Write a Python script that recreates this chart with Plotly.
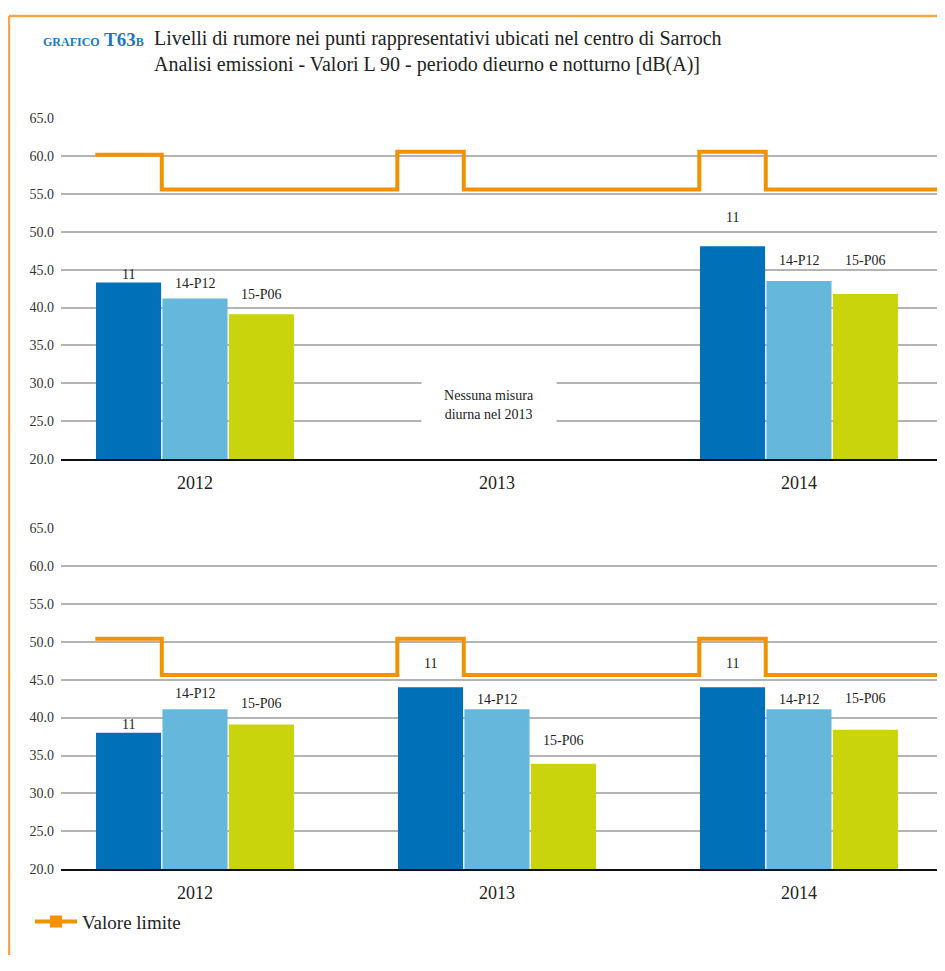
import plotly.graph_objects as go

# ---------------- data ----------------
years = ["2012", "2013", "2014"]
series_names = ["11", "14-P12", "15-P06"]

# daytime (top panel) L90 values, dB(A)
day_11 = [43.3, None, 48.1]
day_14P12 = [41.2, None, 43.5]
day_15P06 = [39.1, None, 41.8]

# night-time (bottom panel) L90 values, dB(A)
night_11 = [38.0, 44.0, 44.0]
night_14P12 = [41.1, 41.1, 41.1]
night_15P06 = [39.1, 33.9, 38.4]

# limit values (Valore limite): point 11 / other points
day_limit_11 = [60.2, 60.6, 60.6]
day_limit_other = [55.6, 55.6, 55.6]
night_limit_11 = [50.4, 50.4, 50.4]
night_limit_other = [45.6, 45.6, 45.6]

y_ticks = [20, 25, 30, 35, 40, 45, 50, 55, 60, 65]

# ---------------- style ----------------
PAGE_OFF = 8            # default body margin of the html page
W, H = 945 - PAGE_OFF, 971 - 2 * PAGE_OFF
colors = ["#0071b8", "#66b7dc", "#c9d40c"]
orange = "#f39200"
frame_col = "#f3a847"
serif = "Liberation Serif"


def px(x):
    return (x - PAGE_OFF) / W


def py(y):
    return 1 - (y - PAGE_OFF) / H


# label offsets (px above bar top, to label centre) [panel][year][series]
label_off = {
    "top": [[8, 15, 20], [0, 0, 0], [29, 21, 33]],
    "bot": [[8, 16, 21], [24, 10, 23], [24, 10, 31]],
}

xpos = list(range(len(years)))
bargap = 0.34
slot = (1 - bargap) / 3.0
x_range = [-0.4437, 2.4836]

fig = go.Figure()

panels = [
    ("top", "x", "y", [day_11, day_14P12, day_15P06], day_limit_11, day_limit_other),
    ("bot", "x2", "y2", [night_11, night_14P12, night_15P06], night_limit_11, night_limit_other),
]

for key, xa, ya, vals, lim_hi, lim_lo in panels:
    for i, (name, v) in enumerate(zip(series_names, vals)):
        fig.add_trace(go.Bar(
            x=xpos, y=[(val - 20) if val is not None else None for val in v],
            base=20, name=name, marker=dict(color=colors[i], line=dict(width=0)),
            xaxis=xa, yaxis=ya, showlegend=False, hoverinfo="skip",
            offsetgroup=str(i),
        ))
        for c, val in enumerate(v):
            if val is None:
                continue
            fig.add_annotation(
                x=xpos[c] + (i - 1) * slot, y=val, xref=xa, yref=ya,
                text=name, showarrow=False, yanchor="middle",
                yshift=label_off[key][c][i],
                font=dict(family=serif, size=14, color="#222"),
            )
    # step line of limit values built from bar geometry
    lx, ly = [], []
    for c in xpos:
        lx += [c - 1.5 * slot, c - 0.5 * slot]
        ly += [lim_hi[c], lim_lo[c]]
    lx.append(x_range[1])
    ly.append(lim_lo[-1])
    fig.add_trace(go.Scatter(
        x=lx, y=ly, mode="lines", line=dict(color=orange, width=4, shape="hv"),
        xaxis=xa, yaxis=ya, showlegend=False, hoverinfo="skip",
    ))

# legend entry
fig.add_trace(go.Scatter(
    x=[None], y=[None], mode="lines+markers", name="Valore limite",
    line=dict(color=orange, width=4),
    marker=dict(symbol="square", size=12, color=orange),
    showlegend=True,
))

top_dom = [py(459), py(113)]
bot_dom = [py(876), py(529)]
x_dom = [px(61), 1.0]

xaxis_common = dict(
    domain=x_dom, range=x_range, tickvals=xpos, ticktext=years,
    showgrid=False, zeroline=False, showline=True, linecolor="#111", linewidth=2,
    ticks="", tickfont=dict(family=serif, size=18, color="#222"),
    ticklabelstandoff=6, fixedrange=True,
)
yaxis_common = dict(
    range=[20, 65], tickvals=y_ticks, tickformat=".1f",
    showgrid=True, gridcolor="#b4b4b4", gridwidth=1.5, zeroline=False,
    showline=False, ticks="", tickfont=dict(family=serif, size=14, color="#333"),
    ticklabelstandoff=6, fixedrange=True,
)

fig.update_layout(
    width=W, height=H,
    margin=dict(l=0, r=0, t=0, b=0),
    paper_bgcolor="white", plot_bgcolor="white",
    barmode="group", bargap=bargap, bargroupgap=0.02,
    xaxis=dict(**xaxis_common, anchor="y"),
    yaxis=dict(**yaxis_common, domain=top_dom, anchor="x"),
    xaxis2=dict(**xaxis_common, anchor="y2"),
    yaxis2=dict(**yaxis_common, domain=bot_dom, anchor="x2"),
    legend=dict(
        x=px(30), y=py(929), xanchor="left", yanchor="middle",
        font=dict(family=serif, size=19, color="#222"),
        bgcolor="rgba(0,0,0,0)", itemwidth=42,
    ),
    showlegend=True,
)

# "no measurement" note
fig.add_annotation(
    x=1 - 8 / 302, y=27.1, xref="x", yref="y",
    text="Nessuna misura<br>diurna nel 2013", showarrow=False,
    font=dict(family=serif, size=14, color="#222"),
    bgcolor="white", width=132, height=46, align="center",
)

# title
fig.add_annotation(
    x=px(146), y=py(33), xref="paper", yref="paper",
    xanchor="right", yanchor="middle", showarrow=False,
    text='<b><span style="font-size:12px">GRAFICO</span> T63<span style="font-size:12px">B</span></b>',
    font=dict(family=serif, size=19, color="#1f78bd"),
)
fig.add_annotation(
    x=px(152), y=py(32), xref="paper", yref="paper",
    xanchor="left", yanchor="middle", showarrow=False,
    text="Livelli di rumore nei punti rappresentativi ubicati nel centro di Sarroch",
    font=dict(family=serif, size=20, color="#222"),
)
fig.add_annotation(
    x=px(152), y=py(58), xref="paper", yref="paper",
    xanchor="left", yanchor="middle", showarrow=False,
    text="Analisi emissioni - Valori L 90 - periodo dieurno e notturno [dB(A)]",
    font=dict(family=serif, size=20, color="#222"),
)

# orange frame
fig.add_shape(type="line", xref="paper", yref="paper",
              x0=px(9), x1=1.0, y0=py(9), y1=py(9),
              line=dict(color=frame_col, width=2.5))
fig.add_shape(type="line", xref="paper", yref="paper",
              x0=px(9), x1=px(9), y0=0, y1=py(9),
              line=dict(color=frame_col, width=2.5))

fig.write_html("out.html", config={"displayModeBar": False})
